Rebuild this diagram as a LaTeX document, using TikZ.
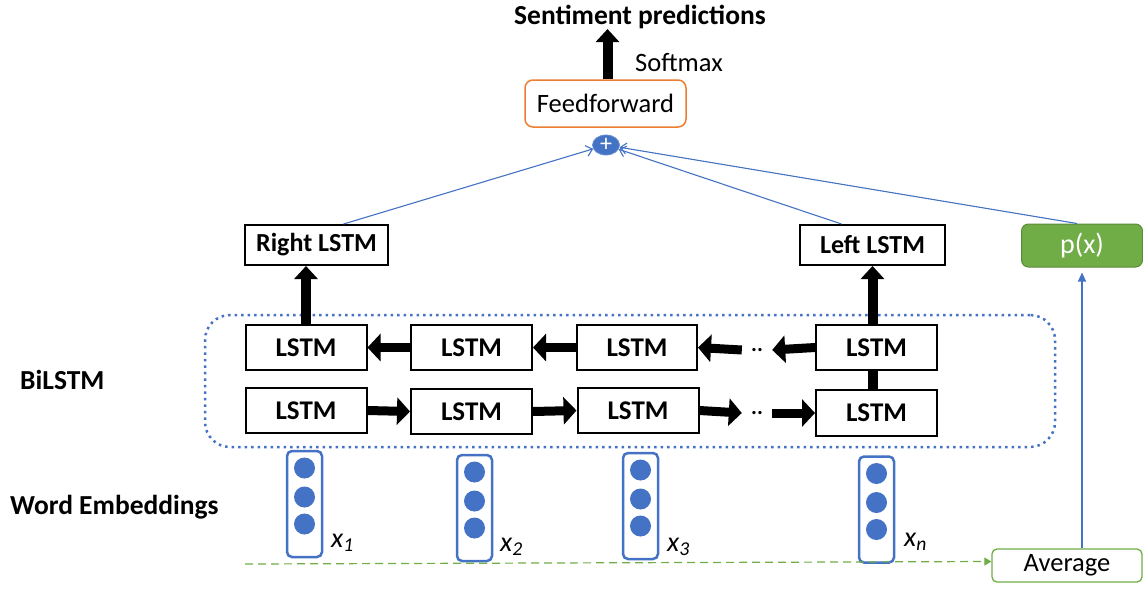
\documentclass[tikz,border=0pt]{standalone}
\usepackage{fontspec}
\setmainfont{Carlito}
\usetikzlibrary{arrows.meta,shapes.geometric}
\definecolor{accblue}{HTML}{4472C4}
\definecolor{accgreen}{HTML}{70AD47}
\definecolor{accorange}{HTML}{ED7D31}
\tikzset{
  txt/.style={font=\fontsize{26.5}{31}\selectfont, inner sep=0pt},
  btxt/.style={font=\fontsize{27.5}{31}\selectfont\bfseries, inner sep=0pt},
  cell/.style={draw=black, line width=2pt, minimum width=121pt, minimum height=45pt,
    inner sep=0pt, font=\fontsize{27}{31}\selectfont\bfseries},
  outbox/.style={draw=black, line width=2pt, minimum height=40pt, inner sep=0pt,
    font=\fontsize{26}{30}\selectfont\bfseries},
  fatv/.style={line width=10pt, -{Triangle[width=23pt,length=13pt]}},
  fath/.style={line width=9pt, -{Triangle[width=27pt,length=13pt]}},
  thin/.style={draw=accblue, line width=1.1pt, -{Straight Barb[length=6pt,width=11pt]}},
  embbox/.style={draw=accblue, line width=2.5pt, rounded corners=5pt,
    minimum width=35pt, minimum height=106pt, inner sep=0pt},
  dot/.style={circle, fill=accblue, minimum size=21pt, inner sep=0pt},
  sub/.style={font=\fontsize{28}{32}\selectfont\itshape, inner sep=0pt, anchor=west},
  gap/.style={minimum width=30pt, inner sep=0pt, font=\fontsize{22}{26}\selectfont\bfseries}
}
\begin{document}
\begin{tikzpicture}[x=1pt,y=-1pt]
\useasboundingbox (0,0) rectangle (1143,590);

% title, classifier head and merge point
\node[btxt] (title) at (640,17) {Sentiment predictions};
\node[draw=accorange, line width=1.5pt, rounded corners=8pt, minimum width=161pt,
  minimum height=47pt, inner sep=0pt, txt] (ff) at (605.5,103.5) {Feedforward};
\node[txt, anchor=west] (soft) at (635,63) {Softmax};
\draw[fatv] ([xshift=2pt]ff.north) -- ([xshift=2pt]ff.north |- title.south) ;
\node[ellipse, fill=accblue, draw=accblue!80!white, line width=0.8pt,
  minimum width=27pt, minimum height=20pt, inner sep=0pt, text=white,
  font=\fontsize{24}{24}\selectfont] (plus) at (606,145) {+};

% pooled LSTM outputs and feature box
\node[outbox, minimum width=143pt] (rl) at (316.5,245) {Right LSTM};
\node[outbox, minimum width=145pt] (ll) at (872.5,245) {Left LSTM};
\node[fill=accgreen, draw=accgreen!80!black, line width=1pt, rounded corners=7pt,
  minimum width=121pt, minimum height=43pt, inner sep=0pt, text=white,
  font=\fontsize{28}{32}\selectfont] (px) at (1082,245.5) {p(x)};

\draw[thin] ([xshift=27pt]rl.north) -- (plus);
\draw[thin] ([xshift=-31pt]ll.north) -- (plus);
\draw[thin] ([xshift=-5pt]px.north) -- (plus);

% bidirectional layer
\node[draw=accblue, line width=2.5pt, dash pattern=on 2.5pt off 4pt, rounded corners=25pt,
  minimum width=850pt, minimum height=132pt, inner sep=0pt] (bilstm) at (630,381) {};
\node[btxt, anchor=west] (bilbl) at (20,380) {BiLSTM};

\node[cell] (t1) at (306,347.5) {LSTM};
\node[cell] (t2) at (471.5,347.5) {LSTM};
\node[cell, minimum width=120pt] (t3) at (637,347.5) {LSTM};
\node[cell] (t4) at (876.5,347.5) {LSTM};

\node[cell] (b1) at (306,410.5) {LSTM};
\node[cell] (b2) at (471.5,411.5) {LSTM};
\node[cell] (b3) at (638,410.5) {LSTM};
\node[cell, minimum height=46pt] (b4) at (876.5,413) {LSTM};

\node[gap] (tg) at (757,350) {..};
\node[gap] (bg) at (757,413) {..};

\draw[fath] (t2.west) -- (t1.east);
\draw[fath] (t3.west) -- (t2.east);
\draw[fath] (t4.west) -- (tg.east);
\draw[fath] (tg.west) -- (t3.east);

\draw[fath] (b1.east) -- (b2.west);
\draw[fath] (b2.east) -- (b3.west);
\draw[fath] (b3.east) -- (bg.west);
\draw[fath] (bg.east) -- (b4.west);

\draw[line width=10pt] ([xshift=-4pt]b4.north) -- ([xshift=-4pt]t4.south);
\draw[fatv] (t1.north) -- (t1.north |- rl.south);
\draw[fatv] ([xshift=-4pt]t4.north) -- ([xshift=-4pt]t4.north |- ll.south);

% word embeddings
\node[btxt, anchor=west] (welbl) at (10,507) {Word Embeddings};

\node[embbox] (e1) at (304.5,504) {};
\node[embbox] (e2) at (474.5,508) {};
\node[embbox] (e3) at (640.5,506) {};
\node[embbox] (e4) at (876.5,509.5) {};
\foreach \e in {e1,e2,e3,e4} {
  \node[dot] at ([yshift=36pt]\e.center) {};
  \node[dot] at ([yshift=7pt]\e.center) {};
  \node[dot] at ([yshift=-20pt]\e.center) {};
}
\node[sub] (x1) at (331,543) {x\textsubscript{1}};
\node[sub] (x2) at (500,547) {x\textsubscript{2}};
\node[sub] (x3) at (667,547) {x\textsubscript{3}};
\node[sub] (xn) at (904,542) {x\textsubscript{n}};

% averaged embedding feeding the feature box
\node[draw=accgreen, line width=1.3pt, rounded corners=5pt, minimum width=150pt,
  minimum height=33pt, inner sep=0pt, txt] (avg) at (1067,565.5) {Average};
\coordinate (dstart) at (245,564);
\draw[accgreen, line width=1.2pt, dash pattern=on 8pt off 5pt,
  -{Triangle[width=8pt,length=7pt]}] (dstart) -- ([yshift=4pt]avg.west);
\draw[accblue, line width=1.1pt, -{Triangle[width=8pt,length=9pt]}, shorten >=5pt]
  (avg.north -| px.south) -- (px.south);
\end{tikzpicture}
\end{document}
